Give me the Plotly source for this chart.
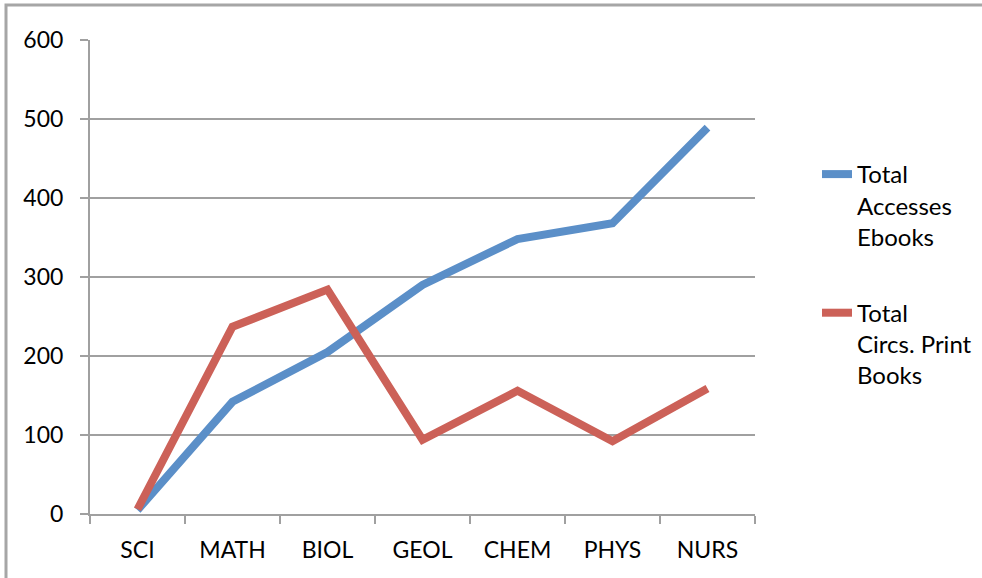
import plotly.graph_objects as go

categories = ["SCI", "MATH", "BIOL", "GEOL", "CHEM", "PHYS", "NURS"]
ebooks = [5, 142, 205, 290, 348, 368, 489]
print_books = [6, 237, 284, 94, 156, 92, 159]
y_ticks = [0, 100, 200, 300, 400, 500, 600]

FONT = "Lato"
GRID = "#a0a0a0"

fig = go.Figure()
fig.add_trace(go.Scatter(
    x=categories, y=ebooks, mode="lines",
    name="Total<br>Accesses<br>Ebooks",
    line=dict(color="#5b8fc8", width=8),
    legendgroup="a",
))
fig.add_trace(go.Scatter(
    x=categories, y=print_books, mode="lines",
    name="Total<br>Circs. Print<br>Books",
    line=dict(color="#cc6158", width=8),
    legendgroup="b",
))

W, H = 982, 578
L, R, T, B = 90, 755, 40, 514
pw, ph = R - L, B - T

def px(x):
    return (x - L) / pw

def py(y):
    return (B - y) / ph

fig.add_shape(type="path", xref="paper", yref="paper",
              path=f"M {px(6)} {py(590)} L {px(6)} {py(5)} L {px(990)} {py(5)}",
              line=dict(color="#a6a6a6", width=3))

fig.update_layout(
    width=W, height=H,
    margin=dict(l=L, r=W - R, t=T, b=H - B, autoexpand=False),
    paper_bgcolor="white", plot_bgcolor="white",
    font=dict(family=FONT, size=23, color="#000000"),
    showlegend=True,
    legend=dict(
        x=px(817), y=py(152), xanchor="left", yanchor="top",
        valign="top", tracegroupgap=42,
        font=dict(family=FONT, size=24, color="#000000"),
        bgcolor="rgba(0,0,0,0)",
    ),
    xaxis=dict(
        type="category", range=[-0.5, 6.5],
        showline=True, linecolor=GRID, linewidth=2,
        ticks="outside", tickson="boundaries", ticklen=8, tickwidth=2, tickcolor=GRID,
        showgrid=False, zeroline=False,
        ticklabelstandoff=14,
        tickfont=dict(family=FONT, size=23),
    ),
    yaxis=dict(
        range=[0, 600], tickvals=y_ticks,
        showline=True, linecolor=GRID, linewidth=2,
        ticks="outside", ticklen=8, tickwidth=2, tickcolor=GRID,
        showgrid=True, gridcolor=GRID, gridwidth=2,
        zeroline=False,
        ticklabelstandoff=12,
        tickfont=dict(family=FONT, size=23),
    ),
)

fig.write_html("out.html", config={"displayModeBar": False},
               post_script="document.body.style.margin='0';")
